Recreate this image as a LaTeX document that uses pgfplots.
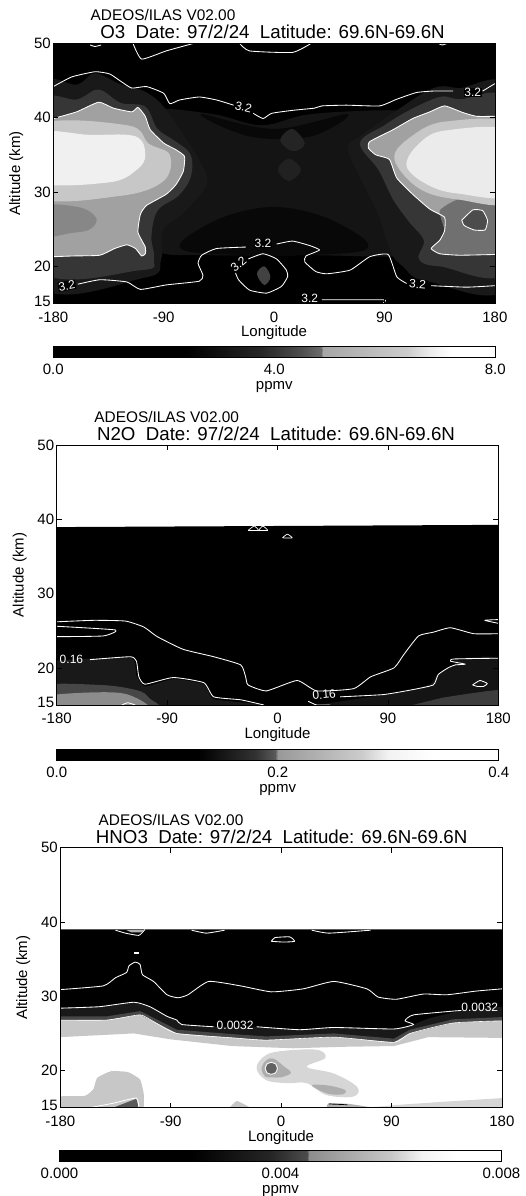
\documentclass[border=0pt]{standalone}
\usepackage{fontspec}
\setmainfont{Liberation Sans}
\usepackage{pgfplots}
\pgfplotsset{compat=1.18}
\newcommand{\fs}[1]{\fontsize{#1}{#1}\selectfont}
\tikzset{cl/.style={font=\fs{12}, text=white, fill=black, inner sep=0.5pt}}
\pgfplotsset{
  panel/.style={
    scale only axis, width=441.6pt, height=260pt,
    xmin=-180, xmax=180, ymin=15, ymax=50,
    xtick={-180,-90,0,90,180}, xticklabels={-180,-90,0,90,180},
    ytick={15,20,30,40,50}, yticklabels={\raisebox{5pt}{15},20,30,40,\raisebox{-6pt}{50}},
    tick align=inside, major tick length=5pt, axis line style={line width=0.7pt}, tick style={line width=0.7pt,black},
    tick label style={font=\fs{15}},
    x tick label style={yshift=-4.5pt},
    y tick label style={xshift=1pt},
    xlabel={Longitude}, ylabel={Altitude (km)},
    every axis x label/.style={font=\fs{15},at={(axis description cs:0.5,0)},anchor=center,yshift=-29.5pt},
    every axis y label/.style={font=\fs{15},at={(axis description cs:0,0.5)},rotate=90,anchor=center,yshift=37pt},
    axis on top, no marks,
  },
  cbar/.style={
    scale only axis, width=442pt, height=11pt,
    xmin=0, xmax=1, ymin=0, ymax=1, ytick=\empty,
    xtick={0,0.5,1},
    major tick length=0pt, axis line style={line width=0.7pt},
    tick label style={font=\fs{15}}, x tick label style={yshift=-3.5pt},
    xlabel={ppmv},
    every axis x label/.style={font=\fs{15},at={(axis description cs:0.5,0)},anchor=center,yshift=-30pt},
    colormap={g}{gray(0)=(0);gray(1)=(1)}, point meta min=0, point meta max=1,
    axis on top,
  },
  ct/.style={white, line width=0.85pt, line join=round, smooth, tension=0.3},
  bl/.style={fill=black!#1, draw=none},
  sc/.style={smooth cycle, tension=0.6},
  sb/.style={smooth, tension=0.3},
}
\begin{document}
\begin{tikzpicture}[x=1pt,y=1pt]
\path[use as bounding box, clip] (0,0) rectangle (526,-1196);
% ---------- O3 ----------
\begin{axis}[panel, at={(53.3pt,-303.5pt)}, anchor=south west]
\addplot[bl=100] coordinates {(-180,15)(180,15)(180,50)(-180,50)};
\addplot[bl=92,sc] coordinates {(-100,41)(-50,40.5)(-10,39)(30,40.5)(100,41)(120,40)(90,36)(80,30)(100,24)(110,21.5)(30,21.5)(-50,21.5)(-95,22)(-105,26)(-90,32)(-90,37)};
\addplot[bl=97,sc] coordinates {(-50,26)(0,28)(50,26)(70,22)(-70,22)};
\addplot[bl=97,sc] coordinates {(-60,40.5)(0,38.5)(60,40.5)(30,37.5)(-20,37.5)};
\addplot[bl=86,sc] coordinates {(5,37)(15,38.5)(25,36.5)(15,35.5)};
\addplot[bl=87,sc] coordinates {(3,33)(12,34.5)(22,33)(12,31.5)};
% halos, left
\addplot[bl=90,sc] coordinates {(-195,43)(-160,44.5)(-146,46)(-125,44.5)(-105,43.5)(-90,41.5)(-75,38)(-60,34)(-55,31)(-75,27)(-90,25)(-92,21)(-105,18.5)(-195,18)};
\addplot[bl=79,sc] coordinates {(-195,41)(-160,42.5)(-143,43.8)(-125,42)(-105,41.5)(-95,38.5)(-80,36.8)(-68,35)(-68,32)(-78,29.5)(-95,27.5)(-100,24)(-98,21)(-108,19.5)(-195,20)};
% halos, right
\addplot[bl=90,sc] coordinates {(195,43)(150,44)(130,44)(100,41)(70,37.5)(60,36)(70,32)(85,27)(95,22)(105,20)(125,18)(195,18)};
\addplot[bl=79,sc] coordinates {(195,41.5)(150,42.5)(135,42.8)(110,41)(90,39)(70,36.6)(85,33)(97,29)(110,26)(122,23.5)(118,21)(135,20)(195,20)};
% left blob
\addplot[bl=37,sb] coordinates {(-180,39.9)(-161,40.8)(-143,42.1)(-131,41.3)(-116,40.8)(-111,41.4)(-105,40.2)(-101,38.4)(-90,36.6)(-80,35.7)(-73,34.8)(-74,32.8)(-80,31)(-88,29.7)(-104,28.2)(-109,27)(-111,24.6)(-105,22.6)(-105,21.7)(-108,21.4)(-113,22.4)(-120,22.9)(-130,22.4)(-142,21.5)(-164,21.4)(-180,21.3)};
\addplot[bl=47,sc] coordinates {(-195,28)(-160,28)(-145,26.5)(-150,25)(-165,24.5)(-195,24)};
\addplot[bl=22,sc] coordinates {(-195,38.8)(-120,39)(-102,36.5)(-85,35)(-90,31.5)(-125,29.5)(-195,29.5)};
\addplot[bl=6,sc] coordinates {(-195,37.8)(-150,37.7)(-113,37.5)(-105,35)(-112,33)(-135,31.3)(-195,31.5)};
% right blob
\addplot[bl=37,sb] coordinates {(180,40.2)(165,40.2)(154,40.7)(139,41.6)(127,40.8)(113,39.9)(97,38.4)(78,36.8)(77,35.9)(83,35)(94,34.4)(100,31.9)(113,29.7)(127,27.7)(139,26.6)(139,24.8)(135,23.5)(128,22.4)(135,21.7)(151,21.5)(180,21.6)};
\addplot[bl=56,sb] coordinates {(180,29)(150,29)(135,27.5)(139,24.8)(135,23.5)(128,22.4)(135,21.7)(151,21.5)(180,21.6)};
\addplot[bl=22,sc] coordinates {(195,38.8)(140,39.5)(112,37.5)(98,34.5)(118,30.5)(150,29)(195,29)};
\addplot[bl=8,sc] coordinates {(195,38)(140,38.3)(118,36.5)(108,33.5)(125,31)(150,29.8)(195,29.8)};
\addplot[bl=70,sb] coordinates {(153,26.2)(162,27.6)(170,27.5)(174,26.2)(172,24.9)(163,24.9)(155,25.5)};
% central spot
\addplot[bl=74,sc] coordinates {(-14,19)(-8,20)(-3,18.6)(-8,17.5)};
% contours
\addplot[ct] coordinates {(-180,44.2)(-165,45.5)(-146,46.2)(-134,45.9)(-124,44.8)(-116,44)(-104,44.2)(-90,43.3)(-85,41.9)(-77,42.4)(-61,42.8)(-47,42.4)(-33,41.7)};
\addplot[ct] coordinates {(-17,40.6)(-9,39.9)(-2,40.6)(15,41)(33,41.3)(39,41.6)(59,41.7)(86,41.6)(100,42.5)(116,43.4)(130,43.6)(146,43.6)};
\addplot[ct] coordinates {(170,43.6)(180,44.6)};
\addplot[ct] coordinates {(-115,50)(-108,47.9)(-88,49)(-66,50)};
\addplot[ct] coordinates {(-28,50)(-20,49)(15,48.8)(30,50)};
\addplot[ct] coordinates {(-150,49.8)(-146,49.6)(-141,49.8)};
\addplot[ct] coordinates {(134,50)(137,49.8)(141,50)};
\addplot[ct] coordinates {(-180,39.9)(-161,40.8)(-143,42.1)(-131,41.3)(-116,40.8)(-111,41.4)(-105,40.2)(-101,38.4)(-90,36.6)(-80,35.7)(-73,34.8)(-74,32.8)(-80,31)(-88,29.7)(-104,28.2)(-109,27)(-111,24.6)(-105,22.6)(-105,21.7)(-108,21.4)(-113,22.4)(-120,22.9)(-130,22.4)(-142,21.5)(-164,21.4)(-180,21.3)};
\addplot[ct] coordinates {(180,40.2)(165,40.2)(154,40.7)(139,41.6)(127,40.8)(113,39.9)(97,38.4)(78,36.8)(77,35.9)(83,35)(94,34.4)(100,31.9)(113,29.7)(127,27.7)(139,26.6)(139,24.8)(135,23.5)(128,22.4)(135,21.7)(151,21.5)(180,21.6)};
\addplot[ct] coordinates {(153,26.2)(162,27.6)(170,27.5)(174,26.2)(172,24.9)(163,24.9)(155,25.5)(153,26.2)};
\addplot[ct] coordinates {(-160,17.6)(-142,18.2)(-120,17.9)(-109,16.9)(-88,17.5)(-61,18)(-58,18.8)(-62,20.4)(-59,21.5)(-47,22.4)(-23,22.6)};
\addplot[ct] coordinates {(2,23)(15,23.4)(29,22.8)(37,22.2)(26,21.4)(25,20.6)(34,19.3)(43,19)(62,19.5)(78,21.3)(93,21.6)(100,18.6)(108,17.7)};
\addplot[ct] coordinates {(128,17.4)(157,17.2)(180,17.4)};
\addplot[ct] coordinates {(-21,21)(-9,21.7)(2,21)(10,19.5)(11,18.6)(6,17.3)(-6,16.4)(-20,16.8)(-29,18.2)(-32,19.5)(-28,20.2)};
\addplot[ct,smooth=false] coordinates {(39,15.5)(89,15.5)(89,15.1)};
\node[cl,rotate=-14] at (axis cs:-25,41.4) {3.2};
\node[cl] at (axis cs:162,43.4) {3.2};
\node[cl] at (axis cs:-9,23.1) {3.2};
\node[cl,rotate=40] at (axis cs:-29,20.3) {3.2};
\node[cl,rotate=10] at (axis cs:-169,17.4) {3.2};
\node[cl,rotate=-5] at (axis cs:117,17.6) {3.2};
\node[cl] at (axis cs:29,15.7) {3.2};
\end{axis}
\node[font=\fs{15.4}] at (163,-15) {ADEOS/ILAS V02.00};
\node[font=\fs{18.7}] at (272.5,-31.7) {O3\ \ Date: 97/2/24\ \ Latitude: 69.6N-69.6N};
\begin{axis}[cbar, at={(53.3pt,-357pt)}, anchor=south west, xticklabels={0.0,4.0,8.0}]
\addplot[surf,shader=interp,mesh/rows=2,point meta=\thisrow{g}] table {
x y g
0 0 0
0.30 0 0
0.47 0 0.15
0.56 0 0.30
0.605 0 0.42
0.61 0 0.65
0.80 0 0.80
0.85 0 0.92
0.90 0 1
1 0 1
0 1 0
0.30 1 0
0.47 1 0.15
0.56 1 0.30
0.605 1 0.42
0.61 1 0.65
0.80 1 0.80
0.85 1 0.92
0.90 1 1
1 1 1
};
\end{axis}
% ---------- N2O ----------
\begin{axis}[panel, at={(56.7pt,-705pt)}, anchor=south west]
\addplot[bl=100] coordinates {(-180,15)(180,15)(180,39.25)(-180,38.95)};
\addplot[bl=90,sb] coordinates {(-180,21)(-120,21.4)(-115,19)(-108,17.5)(-85,18.5)(-60,17.8)(-52,15.8)(-15,15)(-180,15)};
\addplot[bl=72,sc] coordinates {(-195,17.5)(-145,17.7)(-115,17)(-105,16)(-100,14)(-195,14)};
\addplot[bl=45,sc] coordinates {(-195,16)(-150,16.7)(-120,16.3)(-108,14)(-195,14)};
\addplot[bl=92,sb] coordinates {(125,17.8)(131,19.2)(145,20.5)(145,21.2)(180,21.3)(180,15)(40,15)(60,15.7)(108,16.9)};
\addplot[bl=76,sb] coordinates {(135,16)(180,17)(180,15)(110,15)};
\addplot[ct] coordinates {(-180,26.2)(-150,26.4)(-124,26.3)(-109,25.5)(-98,24.2)(-77,22.5)(-52,21.5)(-30,20.4)(-26,18.8)(-24,17.7)(-9,16.9)(16,18.3)(32,16.9)(62,17.2)(76,18.8)(95,20)(103,21.8)(115,24.3)(127,24.8)(141,25.4)(160,24.6)(180,24.6)};
\addplot[ct] coordinates {(-180,25.6)(-132,25.1)(-142,24.3)(-180,24.2)};
\addplot[ct] coordinates {(180,26.5)(169,26.4)(180,26)};
\addplot[ct] coordinates {(-153,21.1)(-120,21.5)(-115,20.9)(-113,18.8)(-108,17.8)(-85,18.7)(-60,18)(-52,16.1)(-30,15.7)(-11,15)};
\addplot[ct] coordinates {(25,15.5)(32,15)(43,15)};
\addplot[ct] coordinates {(51,16.1)(86,16.4)(108,17)(127,17.7)(131,19.1)(139,20)(145,20.4)(153,20.5)(141,20.9)(144,21.2)(180,21.3)};
\addplot[ct] coordinates {(159,17.7)(165,18.3)(171,17.9)(168,17.5)(163,17.5)(159,17.7)};
\addplot[ct,line width=0.7pt] coordinates {(-24,38.5)(-19,39.1)(-15.5,38.5)(-24,38.5)};
\addplot[ct,line width=0.7pt] coordinates {(-15.5,38.5)(-12,39.1)(-8,38.5)(-15.5,38.5)};
\addplot[ct,line width=0.7pt] coordinates {(4,37.5)(8,38)(12,37.5)(4,37.5)};
\addplot[ct] coordinates {(-127,15)(-122,15.3)(-116,15)};
\node[cl,fill=none] at (axis cs:-168,21.2) {0.16};
\node[cl,fill=none,rotate=5] at (axis cs:38,16.4) {0.16};
\end{axis}
\node[font=\fs{15.4}] at (166.7,-417) {ADEOS/ILAS V02.00};
\node[font=\fs{18.7}] at (276,-434) {N2O\ \ Date: 97/2/24\ \ Latitude: 69.6N-69.6N};
\begin{axis}[cbar, at={(56.7pt,-760pt)}, anchor=south west, xticklabels={0.0,0.2,0.4}]
\addplot[surf,shader=interp,mesh/rows=2,point meta=\thisrow{g}] table {
x y g
0 0 0
0.32 0 0
0.45 0 0.20
0.495 0 0.35
0.50 0 0.60
0.69 0 0.80
0.75 0 0.95
0.85 0 1
1 0 1
0 1 0
0.32 1 0
0.45 1 0.20
0.495 1 0.35
0.50 1 0.60
0.69 1 0.80
0.75 1 0.95
0.85 1 1
1 1 1
};
\end{axis}
% ---------- HNO3 ----------
\begin{axis}[panel, at={(60.3pt,-1107.7pt)}, anchor=south west]
\addplot[bl=100] coordinates {(-180,39)(180,39)(180,26.7)(140,26.4)(105,25)(92,23.8)(43,24.5)(-12,24.1)(-39,24.4)(-85,25)(-104,26.6)(-115,27.5)(-142,26.8)(-180,26.8)};
\addplot[bl=90] coordinates {(-180,28.4)(-148,28.6)(-120,29.2)(-107,28.6)(-93,27.3)(-85,26.8)(-81,26.2)(-55,25.9)(-20,25.9)(15,25.5)(43,25.8)(92,25.6)(108,26.2)(120,27)(147,28.1)(180,28.6)(180,26.7)(140,26.4)(105,25)(92,23.8)(43,24.5)(-12,24.1)(-39,24.4)(-85,25)(-104,26.6)(-115,27.5)(-142,26.8)(-180,26.8)};
\addplot[bl=72] coordinates {(-180,27.3)(-142,27.3)(-115,28)(-104,27.1)(-85,25.5)(-39,24.9)(-12,24.6)(43,25)(92,24.3)(105,25.5)(140,26.9)(180,27.2)(180,26.7)(140,26.4)(105,25)(92,23.8)(43,24.5)(-12,24.1)(-39,24.4)(-85,25)(-104,26.6)(-115,27.5)(-142,26.8)(-180,26.8)};
\addplot[bl=22] coordinates {(-180,26.8)(-142,26.8)(-115,27.5)(-104,26.6)(-85,25)(-39,24.4)(-12,24.1)(43,24.5)(92,23.8)(105,25)(140,26.4)(180,26.7)(180,24.4)(120,24.5)(92,23.3)(50,23.2)(10,23)(-40,23.3)(-90,24.2)(-120,25)(-180,24.5)};
% light patches in the lower part
\addplot[bl=16,sc] coordinates {(-20,20.3)(-14,21.9)(-1,22.6)(29,22.8)(36,21.7)(21,20.5)(43,19.6)(62,17.8)(59,16.5)(37,16.7)(21,18.3)(5,18.3)(-12,18.7)};
\addplot[bl=32,sc] coordinates {(-16,20.3)(-12,21.4)(-6,21.6)(2,20.6)(8,19.7)(0,19.1)(-8,19.1)(-13,19.2)};
\addplot[bl=32,sc] coordinates {(25,18)(38,18)(52,17.4)(50,16.8)(38,16.9)};
\addplot[bl=62,sb] coordinates {(-13,20.3)(-11.5,20.9)(-8,21.1)(-4.5,20.9)(-3,20.3)(-4.5,19.7)(-8,19.5)(-11.5,19.7)};
\addplot[bl=22,sb] coordinates {(-180,15)(-180,16.5)(-160,16.6)(-153,17.5)(-150,19)(-139,19.9)(-125,19.8)(-115,18.8)(-112,16.9)(-112,15)};
\addplot[bl=65] coordinates {(-137,15)(-118,16.2)(-116,15)};
\addplot[bl=16] coordinates {(70,15)(97,15.4)(132,15.8)(180,16.3)(180,15)};
\addplot[bl=22,sb] coordinates {(-42,15)(-36,15.9)(-25,15)};
\addplot[bl=30,sb] coordinates {(37,15)(39,15.6)(56,15.5)(75,15)};
\addplot[bl=30] coordinates {(-126,38.9)(-122,38.6)(-114,38.6)(-112,38.9)};
% contours
\addplot[ct] coordinates {(-180,30.9)(-145,31.4)(-135,32.5)(-126,33.2)(-124,34.1)(-119,34.6)(-115,34.3)(-113,32.9)(-104,32)(-93,30.2)(-84,29.8)(-76,30.2)(-59,32)(-33,31.4)(-8,30.6)(18,31)(43,32)(70,31)(79,29.9)(94,29.6)(116,30.3)(135,30.2)(159,30.7)(180,31)};
\addplot[ct] coordinates {(-180,28.4)(-148,28.6)(-120,29.2)(-107,28.6)(-93,27.3)(-85,26.8)(-81,26.2)(-55,25.9)};
\addplot[ct] coordinates {(-20,25.9)(15,25.5)(43,25.8)(92,25.6)(108,26.2)(101,26.7)(108,27.5)(147,28.1)};
\addplot[ct,line width=0.6pt] coordinates {(-180,26.8)(-142,26.8)(-115,27.5)(-104,26.6)(-85,25)(-39,24.4)(-12,24.1)(43,24.5)(92,23.8)(105,25)(140,26.4)(180,26.7)};
\addplot[ct] coordinates {(-13,20.3)(-11.5,20.9)(-8,21.1)(-4.5,20.9)(-3,20.3)(-4.5,19.7)(-8,19.5)(-11.5,19.7)(-13,20.3)};
\addplot[ct] coordinates {(-156,15)(-137,15.6)(-118,16.3)(-116,15)};
\addplot[ct] coordinates {(-135,38.9)(-127,38.5)(-116,38.2)(-112,38.8)(-111,39)};
\addplot[ct] coordinates {(-73,38.9)(-61,38.5)(-46,38.9)};
\addplot[ct] coordinates {(25,38.9)(39,38.5)(73,38.9)};
\addplot[ct] coordinates {(-8,37.4)(-5,37.9)(7,38)(11,37.4)(2,37.3)(-8,37.4)};
\addplot[white,line width=1.6pt] coordinates {(-120,35.8)(-116,35.8)};
\addplot[black,line width=0.7pt] coordinates {(39,15.5)(54,15.4)};
\node[cl,fill=none] at (axis cs:-37.5,26.1) {0.0032};
\node[cl,fill=none] at (axis cs:162,28.5) {0.0032};
\end{axis}
\node[font=\fs{15.4}] at (171,-820) {ADEOS/ILAS V02.00};
\node[font=\fs{18.7}] at (281.7,-837) {HNO3\ \ Date: 97/2/24\ \ Latitude: 69.6N-69.6N};
\begin{axis}[cbar, at={(59.5pt,-1161.3pt)}, anchor=south west, xticklabels={0.000,0.004,0.008}]
\addplot[surf,shader=interp,mesh/rows=2,point meta=\thisrow{g}] table {
x y g
0 0 0
0.30 0 0
0.48 0 0.15
0.56 0 0.30
0.565 0 0.55
0.75 0 0.78
0.82 0 0.95
0.90 0 1
1 0 1
0 1 0
0.30 1 0
0.48 1 0.15
0.56 1 0.30
0.565 1 0.55
0.75 1 0.78
0.82 1 0.95
0.90 1 1
1 1 1
};
\end{axis}
\end{tikzpicture}
\end{document}
